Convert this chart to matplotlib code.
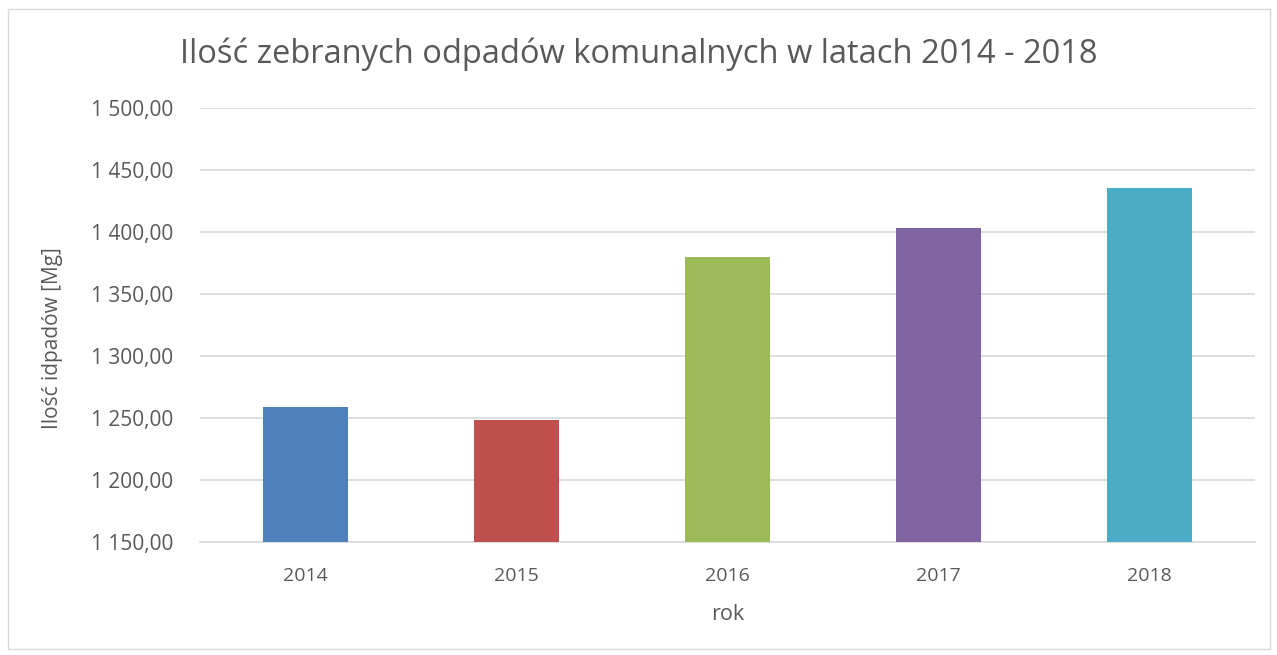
import matplotlib
matplotlib.use("Agg")
import matplotlib.pyplot as plt
from matplotlib.ticker import FuncFormatter
from matplotlib.patches import Rectangle

years = ["2014", "2015", "2016", "2017", "2018"]
values = [1258.9, 1248.4, 1379.8, 1403.2, 1435.5]
colors = ["#4f81bd", "#c0504d", "#9bbb59", "#8064a2", "#4bacc6"]
yticks = [1150, 1200, 1250, 1300, 1350, 1400, 1450, 1500]

plt.rcParams['font.family'] = ['Open Sans', 'DejaVu Sans']
txt = "#595959"

fig = plt.figure(figsize=(12.77, 6.55), dpi=100)
ax = fig.add_axes([200/1277, 1 - 542/655, 1055/1277, 434/655])

x = list(range(len(years)))
ax.bar(x, [v - 1150 for v in values], bottom=1150, width=0.40, color=colors, zorder=3)
ax.set_xlim(-0.5, 4.5)
ax.set_ylim(1150, 1500)
ax.set_yticks(yticks)
ax.yaxis.set_major_formatter(FuncFormatter(lambda v, p: f"{int(v):,}".replace(",", " ") + ",00"))
ax.set_xticks(x)
ax.set_xticklabels(years)
ax.grid(axis='y', color="#d9d9d9", linewidth=1.2, zorder=0)
for s in ["top", "right", "left"]:
    ax.spines[s].set_visible(False)
ax.spines["bottom"].set_color("#d9d9d9")
ax.spines["bottom"].set_linewidth(1.2)
ax.tick_params(axis='y', length=0, labelsize=15, labelcolor=txt, pad=19)
ax.tick_params(axis='x', length=0, labelsize=14, labelcolor=txt, pad=18)
ax.set_xlabel("rok", fontsize=15.5, color=txt, labelpad=14)
ax.set_ylabel("Ilość idpadów [Mg]", fontsize=15, color=txt)
ax.yaxis.set_label_coords(-(200 - 63) / 1055, (542 - 338) / 434)
fig.text(0.5, 1 - 54/655, "Ilość zebranych odpadów komunalnych w latach 2014 - 2018",
         ha="center", va="center", fontsize=23.5, color=txt)
fig.patches.append(Rectangle((8/1277, 6/655), 1262/1277, 640/655, transform=fig.transFigure,
                             fill=False, edgecolor="#d9d9d9", linewidth=1))
fig.savefig("out.png", dpi=100)
